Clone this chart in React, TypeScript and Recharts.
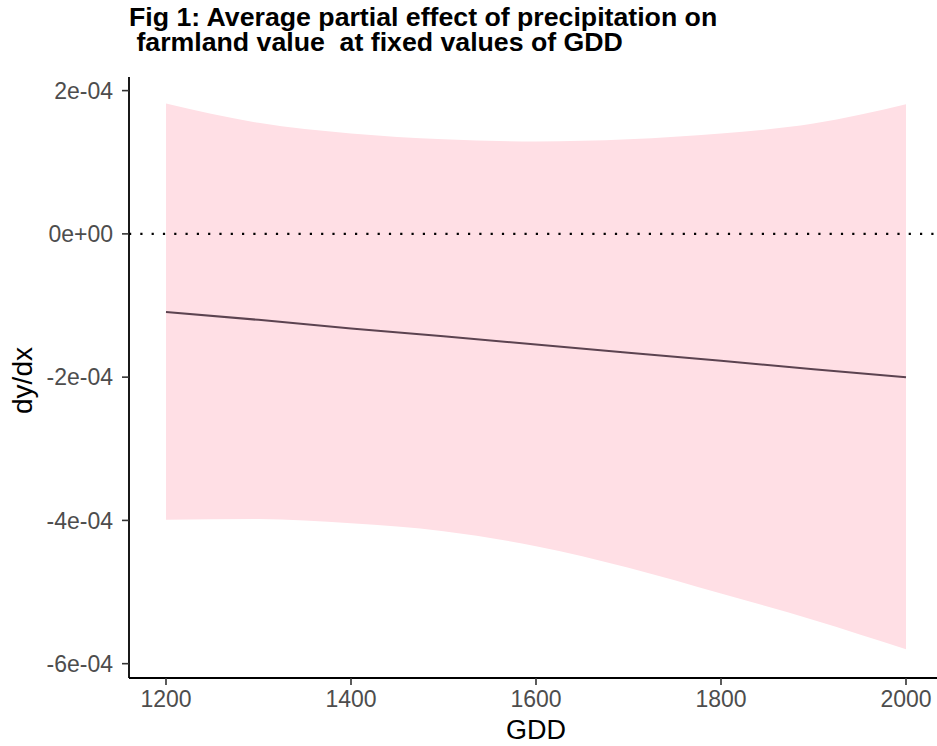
import { ComposedChart, Area, Line, XAxis, YAxis, ReferenceLine, Label } from 'recharts'

const gdd = [1200, 1300, 1400, 1500, 1600, 1700, 1800, 1900, 2000]
const lowerCI = [-3.99e-4, -3.98e-4, -4.04e-4, -4.15e-4, -4.36e-4, -4.66e-4, -5.02e-4, -5.39e-4, -5.8e-4]
const upperCI = [1.82e-4, 1.55e-4, 1.4e-4, 1.32e-4, 1.29e-4, 1.32e-4, 1.4e-4, 1.54e-4, 1.81e-4]
const effect = [-1.09e-4, -1.2e-4, -1.32e-4, -1.43e-4, -1.545e-4, -1.66e-4, -1.77e-4, -1.89e-4, -2.0e-4]

const xTicks = [1200, 1400, 1600, 1800, 2000]
const yTicks = [-6e-4, -4e-4, -2e-4, 0, 2e-4]

const font = '"Liberation Sans", Arial, Helvetica, sans-serif'

// R style scientific labels: 2e-04, 0e+00
const sci = (v: number) => {
  const [m, e] = v.toExponential(0).split('e')
  const n = Number(e)
  const sign = n < 0 ? '-' : '+'
  return `${m}e${sign}${String(Math.abs(n)).padStart(2, '0')}`
}

const data = gdd.map((g, i) => ({
  gdd: g,
  band: [lowerCI[i], upperCI[i]],
  effect: effect[i],
}))

function YLabel({ viewBox }: any) {
  const cx = 22
  const cy = viewBox.y + viewBox.height / 2 + 3
  return (
    <text
      x={cx}
      y={cy}
      transform={`rotate(-90 ${cx} ${cy})`}
      textAnchor="middle"
      dominantBaseline="central"
      fontSize={28}
      fill="#000"
      fontFamily={font}
    >
      dy/dx
    </text>
  )
}

function XLabel({ viewBox }: any) {
  return (
    <text
      x={viewBox.x + viewBox.width / 2}
      y={739}
      textAnchor="middle"
      fontSize={27}
      fill="#000"
      fontFamily={font}
    >
      GDD
    </text>
  )
}

export default function App() {
  const tick = { fontSize: 23, fill: '#4d4d4d', fontFamily: font }
  return (
    <div
      style={{
        position: 'absolute',
        left: 0,
        top: 0,
        width: 937,
        height: 746,
        overflow: 'hidden',
        background: '#fff',
      }}
    >
      <div
        style={{
          position: 'absolute',
          left: 129,
          top: 5,
          fontFamily: font,
          fontWeight: 'bold',
          fontSize: 26.7,
          lineHeight: '25px',
          whiteSpace: 'pre',
          color: '#000',
        }}
      >
        {'Fig 1: Average partial effect of precipitation on\n farmland value  at fixed values of GDD'}
      </div>
      <ComposedChart width={943} height={746} data={data} margin={{ top: 77, right: 0, bottom: 0, left: 0 }}>
        <Area
          dataKey="band"
          type="monotone"
          stroke="none"
          fill="#ffdfe5"
          fillOpacity={1}
          isAnimationActive={false}
        />
        <ReferenceLine y={0} stroke="#000" strokeWidth={2.2} strokeDasharray="2.2 9.1" />
        <Line
          dataKey="effect"
          type="linear"
          stroke="#5c4350"
          strokeWidth={2}
          dot={false}
          isAnimationActive={false}
        />
        <XAxis
          dataKey="gdd"
          type="number"
          domain={[1160, 2040]}
          ticks={xTicks}
          height={68}
          tick={tick}
          tickSize={7}
          tickMargin={6}
          axisLine={{ stroke: '#000', strokeWidth: 1.8 }}
          tickLine={{ stroke: '#333', strokeWidth: 1.6 }}
        >
          <Label content={<XLabel />} />
        </XAxis>
        <YAxis
          type="number"
          domain={[-6.2e-4, 2.19e-4]}
          ticks={yTicks}
          tickFormatter={sci}
          width={129}
          tick={tick}
          tickSize={7}
          tickMargin={9}
          axisLine={{ stroke: '#000', strokeWidth: 1.8 }}
          tickLine={{ stroke: '#333', strokeWidth: 1.6 }}
          allowDataOverflow
        >
          <Label content={<YLabel />} />
        </YAxis>
      </ComposedChart>
    </div>
  )
}
